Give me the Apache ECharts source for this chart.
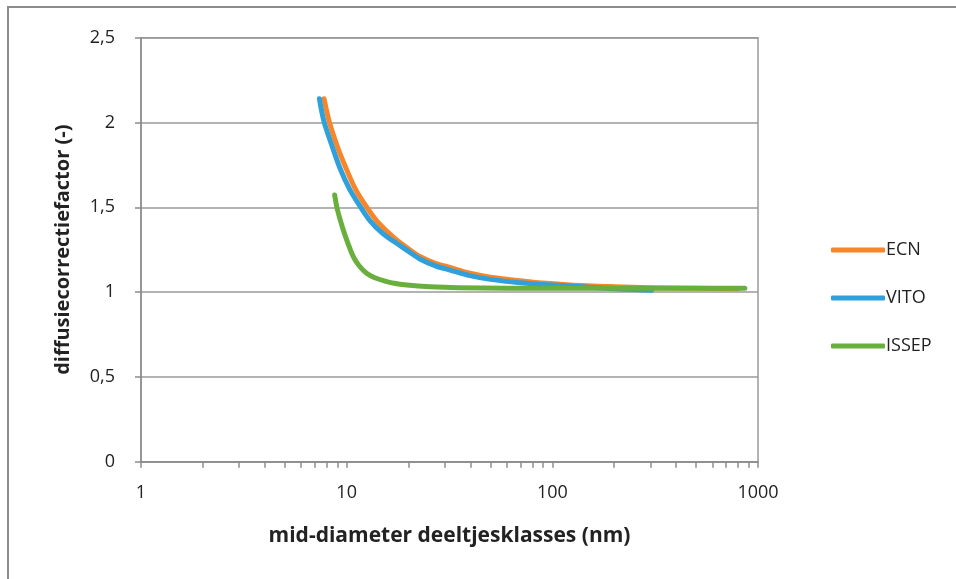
<!DOCTYPE html>
<html>
<head>
<meta charset="utf-8">
<script src="https://cdn.jsdelivr.net/npm/echarts@6/dist/echarts.min.js"></script>
<style>html,body{margin:0;padding:0;background:#fff;}#c{width:956px;height:579px;}</style>
</head>
<body>
<div id="c"></div>
<script>
// diameters (nm) and correction factors
const ecnX   = [7.76, 8.23, 9.0, 9.93, 11.0, 12.3, 14.0, 15.8, 17.5, 20, 22.7, 27, 31.8, 39.8, 50, 69.6, 90, 121.8, 200, 300, 500, 800];
const ecnY   = [2.14, 2.005, 1.86, 1.73, 1.61, 1.514, 1.42, 1.355, 1.307, 1.255, 1.21, 1.17, 1.145, 1.111, 1.088, 1.067, 1.053, 1.042, 1.032, 1.026, 1.022, 1.02];
const vitoX  = [7.37, 7.76, 8.5, 9.28, 10.3, 11.5, 13.0, 15.0, 17.5, 20, 22.7, 27, 31.8, 39.8, 50, 69.6, 90, 121.8, 200, 304];
const vitoY  = [2.14, 2.005, 1.86, 1.73, 1.61, 1.514, 1.42, 1.345, 1.288, 1.24, 1.195, 1.155, 1.13, 1.097, 1.075, 1.055, 1.045, 1.036, 1.02, 1.011];
const issepX = [8.74, 9.0, 9.63, 10.2, 10.77, 11.5, 12.5, 13.7, 15.1, 17.0, 19.6, 25.4, 35, 60, 150, 400, 863];
const issepY = [1.573, 1.49, 1.366, 1.28, 1.209, 1.155, 1.111, 1.085, 1.068, 1.052, 1.042, 1.032, 1.026, 1.023, 1.022, 1.022, 1.022];
const seriesNames = ['ECN', 'VITO', 'ISSEP'];
const xTickValues = [1,2,3,4,5,6,7,8,9,10,20,30,40,50,60,70,80,90,100,200,300,400,500,600,700,800,900,1000];
const xLabelValues = [1, 10, 100, 1000];

const zip = (xs, ys) => xs.map((x, i) => [x, ys[i]]);
const font = '"Open Sans", "Liberation Sans", sans-serif';
const axisGray = '#8c8c8c';

const chart = echarts.init(document.getElementById('c'), null, {renderer: 'canvas'});
const lineSeries = (name, xs, ys, color, z) => ({
  name, type: 'line', data: zip(xs, ys), smooth: 0.3, showSymbol: false,
  lineStyle: {color, width: 5, cap: 'round', join: 'round'}, itemStyle: {color}, z
});
chart.setOption({
  animation: false,
  backgroundColor: '#ffffff',
  graphic: [{
    type: 'rect', shape: {x: 8, y: 7, width: 1200, height: 1200},
    style: {fill: 'none', stroke: axisGray, lineWidth: 2}, silent: true, z: 0
  }],
  grid: {
    left: 141, right: 198, top: 37.7, bottom: 117.3,
    show: true, borderColor: '#9a9a9a', borderWidth: 1.5, backgroundColor: 'transparent'
  },
  legend: {
    orient: 'vertical', left: 826, top: 236,
    itemWidth: 54, itemHeight: 5, itemGap: 30,
    icon: 'roundRect',
    textStyle: {fontFamily: font, fontSize: 18, color: '#222', padding: [0, 0, 0, -4]},
    data: seriesNames
  },
  xAxis: {
    type: 'log', logBase: 10, min: 1, max: 1000,
    name: 'mid-diameter deeltjesklasses (nm)', nameLocation: 'middle', nameGap: 64,
    nameTextStyle: {fontFamily: font, fontSize: 21, fontWeight: 'bold', color: '#222'},
    axisLine: {lineStyle: {color: axisGray, width: 1.5}},
    axisTick: {show: true, length: 6, inside: false, customValues: xTickValues, lineStyle: {color: axisGray, width: 1.5}},
    axisLabel: {customValues: xLabelValues, fontFamily: font, fontSize: 18, color: '#222', margin: 22,
      formatter: v => String(Math.round(v))},
    splitLine: {show: false},
    minorTick: {show: false}
  },
  yAxis: {
    type: 'value', min: 0, max: 2.5, interval: 0.5,
    name: 'diffusiecorrectiefactor (-)', nameLocation: 'middle', nameGap: 68, nameRotate: 90,
    nameTextStyle: {fontFamily: font, fontSize: 20, fontWeight: 'bold', color: '#222'},
    axisLine: {show: true, lineStyle: {color: axisGray, width: 1.5}},
    axisTick: {show: true, length: 6, lineStyle: {color: axisGray, width: 1.5}},
    axisLabel: {fontFamily: font, fontSize: 18, color: '#222', margin: 26,
      formatter: v => String(v).replace('.', ',')},
    splitLine: {show: true, lineStyle: {color: '#9a9a9a', width: 1.5}}
  },
  series: [
    lineSeries('ECN', ecnX, ecnY, '#F7862A', 2),
    lineSeries('VITO', vitoX, vitoY, '#2FA0DA', 3),
    lineSeries('ISSEP', issepX, issepY, '#68AF3D', 4)
  ]
});
</script>
</body>
</html>
